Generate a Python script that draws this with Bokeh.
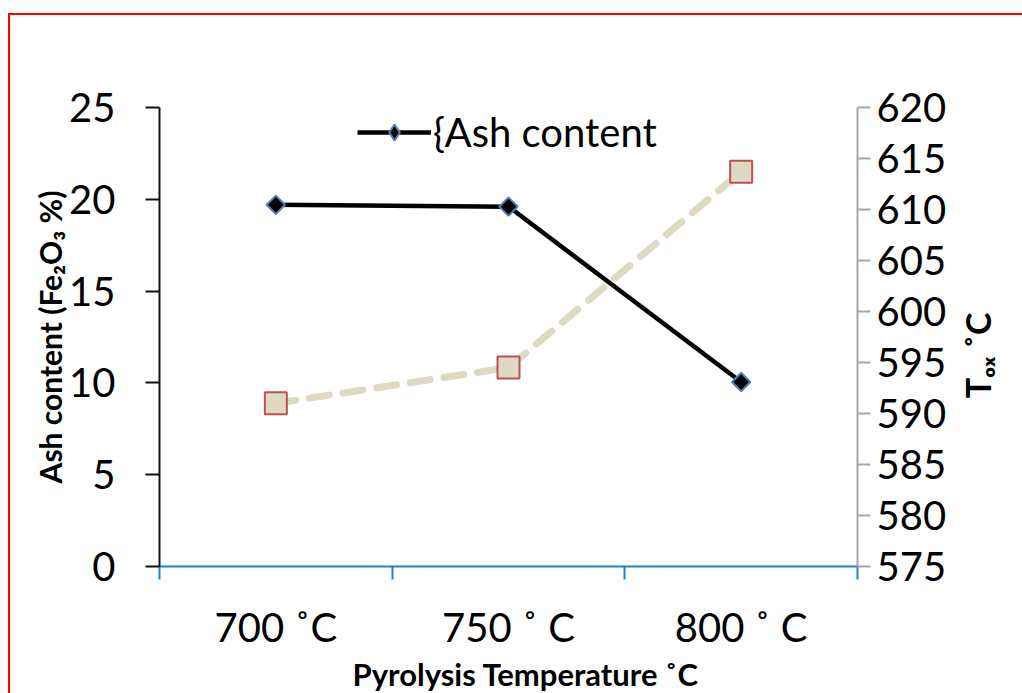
from math import pi
from bokeh.plotting import figure
from bokeh.models import (Range1d, LinearAxis, FixedTicker, Legend, LegendItem, Title)
from bokeh.embed import file_html
from bokeh.resources import INLINE

# ---- data ----
categories = ["700 ˚C", "750 ˚ C", "800 ˚ C"]
ash_content = [19.7, 19.6, 10.05]
t_ox = [591.0, 594.5, 613.7]
left_ticks = [0, 5, 10, 15, 20, 25]
right_ticks = [575, 580, 585, 590, 595, 600, 605, 610, 615, 620]
x_title = "Pyrolysis Temperature ˚C"
left_title = "Ash content (Fe₂O₃ %)"
right_title = "Tₒₓ ˚C"
right_title_anchor = 591.5   # where the rotated right title starts, on the T_ox scale

# category centres / boundaries on a numeric axis (same layout as a FactorRange)
centers = [i + 0.5 for i in range(len(categories))]
bounds = [float(i) for i in range(len(categories) + 1)]

FONT = "Lato"

p = figure(width=1022, height=693, output_backend="svg", toolbar_location=None,
           x_range=Range1d(0, len(categories)), y_range=Range1d(0, 25),
           x_axis_location=None, y_axis_location=None,
           min_border_left=159, min_border_right=165, min_border_top=107,
           min_border_bottom=122)
p.border_fill_color = None
p.background_fill_color = "white"
p.outline_line_color = None
p.xgrid.visible = False
p.ygrid.visible = False
# red outer border (only its left and top edges are inside the window)
p.styles = {
    "background-color": "white",
    "background-image": "linear-gradient(#ff0000, #ff0000), linear-gradient(#ff0000, #ff0000)",
    "background-size": "2px 680px, 1014px 2px",
    "background-position": "8px 13px, 8px 13px",
    "background-repeat": "no-repeat, no-repeat",
}

p.extra_y_ranges = {"t": Range1d(575, 620)}

# left axis
ly = LinearAxis(ticker=FixedTicker(ticks=left_ticks, minor_ticks=[]))
ly.axis_line_color = "#111111"
ly.axis_line_width = 2
ly.major_tick_line_color = "#111111"
ly.major_tick_line_width = 2
ly.major_tick_out = 14
ly.major_tick_in = 0
ly.minor_tick_line_color = None
ly.major_label_text_font = FONT
ly.major_label_text_font_size = "40px"
ly.major_label_text_color = "black"
ly.major_label_standoff = 30
ly.axis_label = left_title
ly.axis_label_text_font = FONT
ly.axis_label_text_font_style = "bold"
ly.axis_label_text_font_size = "30px"
ly.axis_label_text_color = "black"
ly.axis_label_standoff = -2
p.add_layout(ly, "left")

# right axis
ry = LinearAxis(y_range_name="t", ticker=FixedTicker(ticks=right_ticks, minor_ticks=[]))
ry.axis_line_color = "#a6a6a6"
ry.axis_line_width = 2
ry.major_tick_line_color = "#a6a6a6"
ry.major_tick_line_width = 2
ry.major_tick_out = 13
ry.major_tick_in = 0
ry.minor_tick_line_color = None
ry.major_label_text_font = FONT
ry.major_label_text_font_size = "40px"
ry.major_label_text_color = "black"
ry.major_label_standoff = 6
p.add_layout(ry, "right")

# right title, reading bottom-to-top, as a single rotated tick label
rt = LinearAxis(y_range_name="t", ticker=FixedTicker(ticks=[right_title_anchor], minor_ticks=[]))
rt.major_label_overrides = {right_title_anchor: right_title}
rt.major_label_orientation = pi / 2
rt.axis_line_color = None
rt.major_tick_line_color = None
rt.minor_tick_line_color = None
rt.major_tick_out = 0
rt.major_tick_in = 0
rt.major_label_text_font = FONT
rt.major_label_text_font_style = "bold"
rt.major_label_text_font_size = "34px"
rt.major_label_text_color = "black"
rt.major_label_standoff = 28
p.add_layout(rt, "right")

# bottom axis: labels at centres, ticks at boundaries
bx = LinearAxis(ticker=FixedTicker(ticks=centers, minor_ticks=bounds))
bx.major_label_overrides = {c: lab for c, lab in zip(centers, categories)}
bx.axis_line_color = "#1f7fd4"
bx.axis_line_width = 2
bx.major_tick_line_color = None
bx.major_tick_out = 0
bx.major_tick_in = 0
bx.minor_tick_line_color = "#1f7fd4"
bx.minor_tick_line_width = 2
bx.minor_tick_out = 13
bx.minor_tick_in = 0
bx.major_label_text_font = FONT
bx.major_label_text_font_size = "40px"
bx.major_label_text_color = "black"
bx.major_label_standoff = 23
p.add_layout(bx, "below")

# x-axis title
p.add_layout(Title(text=x_title, align="left", offset=193, standoff=0,
                   vertical_align="middle", text_font=FONT, text_font_style="bold",
                   text_font_size="31px", text_color="black"), "below")

# series 2 (T_ox) dashed beige
p.line(centers, t_ox, y_range_name="t", line_color="#ddd9c3", line_width=7,
       line_dash="20 14", line_cap="round")
p.scatter(centers, t_ox, y_range_name="t", marker="square", size=22,
          fill_color="#ddd9c3", line_color="#c0504d", line_width=2)

# series 1 ash content
l1 = p.line(centers, ash_content, line_color="black", line_width=4.5)
m1 = p.scatter(centers, ash_content, marker="square", angle=pi / 4, size=13,
               fill_color="black", line_color="#4f81bd", line_width=2)
# legend swatch marker (a NaN point, so nothing is drawn in the plot area)
m_leg = p.scatter(x=[float("nan")], y=[float("nan")], marker="diamond", size=22,
                  fill_color="black", line_color="#4f81bd", line_width=2)

legend = Legend(items=[LegendItem(label="{Ash content", renderers=[l1, m_leg])],
                location=(198, 410))
legend.border_line_color = None
legend.background_fill_alpha = 0
legend.glyph_width = 74
legend.glyph_height = 40
legend.label_text_font = FONT
legend.label_text_font_size = "40px"
legend.label_text_color = "black"
legend.label_standoff = 2
legend.padding = 0
legend.margin = 0
p.add_layout(legend, "center")

open("out.html", "w").write(file_html(p, INLINE))
